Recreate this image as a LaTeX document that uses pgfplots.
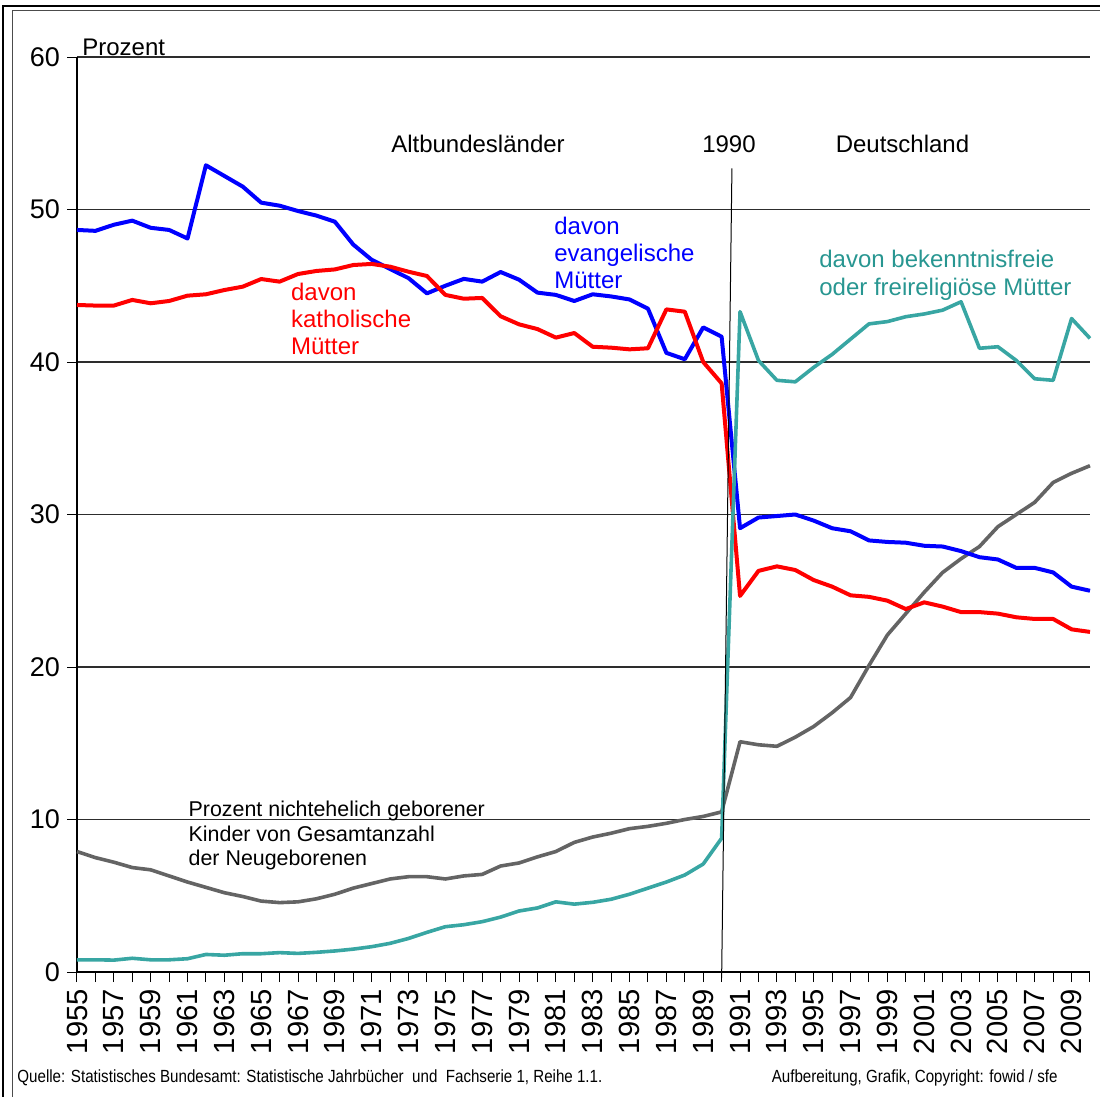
\documentclass[border=0pt]{standalone}
\usepackage{fontspec}
\setmainfont{Liberation Sans}
\newfontfamily\narrow[FakeStretch=0.86]{Liberation Sans}
\usepackage{pgfplots}
\usepackage{pgfplotstable}
\pgfplotsset{compat=1.18}
\definecolor{tealc}{RGB}{56,166,163}
\definecolor{tealtext}{RGB}{40,150,145}
\definecolor{grayc}{RGB}{100,100,100}
\definecolor{gridc}{RGB}{45,45,45}

\pgfplotstableread{
year ev kath frei nicht
1955 48.66 43.74 0.80 7.90
1956 48.60 43.70 0.80 7.50
1957 49.00 43.70 0.78 7.20
1958 49.27 44.07 0.90 6.85
1959 48.80 43.85 0.80 6.70
1960 48.66 44.00 0.80 6.30
1961 48.10 44.35 0.87 5.90
1962 52.90 44.44 1.15 5.55
1963 52.20 44.72 1.10 5.20
1964 51.50 44.94 1.20 4.95
1965 50.45 45.44 1.20 4.65
1966 50.25 45.27 1.27 4.55
1967 49.90 45.77 1.22 4.60
1968 49.60 45.97 1.29 4.80
1969 49.20 46.07 1.38 5.10
1970 47.70 46.36 1.50 5.50
1971 46.70 46.43 1.66 5.80
1972 46.10 46.25 1.88 6.10
1973 45.50 45.92 2.20 6.25
1974 44.50 45.64 2.60 6.25
1975 45.00 44.40 2.97 6.10
1976 45.45 44.15 3.10 6.30
1977 45.27 44.20 3.30 6.40
1978 45.90 43.00 3.60 6.95
1979 45.40 42.47 4.00 7.15
1980 44.55 42.16 4.20 7.55
1981 44.40 41.60 4.60 7.90
1982 44.00 41.90 4.45 8.50
1983 44.44 41.00 4.57 8.85
1984 44.30 40.94 4.77 9.10
1985 44.10 40.83 5.10 9.40
1986 43.50 40.90 5.50 9.55
1987 40.60 43.45 5.90 9.75
1988 40.18 43.30 6.36 10.00
1989 42.27 40.00 7.08 10.20
1990 41.66 38.60 8.77 10.50
1991 29.10 24.66 43.30 15.10
1992 29.80 26.30 40.10 14.90
1993 29.90 26.60 38.80 14.80
1994 30.00 26.36 38.70 15.40
1995 29.60 25.70 39.65 16.10
1996 29.10 25.27 40.50 17.00
1997 28.90 24.70 41.50 18.00
1998 28.30 24.60 42.50 20.10
1999 28.20 24.35 42.65 22.10
2000 28.15 23.80 42.97 23.50
2001 27.95 24.24 43.15 24.90
2002 27.90 23.96 43.40 26.20
2003 27.60 23.60 43.95 27.10
2004 27.20 23.60 40.90 27.90
2005 27.05 23.50 41.00 29.20
2006 26.50 23.26 40.10 30.00
2007 26.50 23.15 38.90 30.80
2008 26.20 23.15 38.80 32.10
2009 25.27 22.47 42.85 32.70
2010 25.00 22.30 41.55 33.20
}\datatable

\begin{document}
\begin{tikzpicture}[x=0.5pt,y=-0.5pt]
\useasboundingbox (0,0) rectangle (1100,1097);
\begin{scope}
\clip (0,0) rectangle (1100,1097);
\draw[line width=1pt, black] (3,6) rectangle (1130,1130);
\draw[line width=0.5pt, black!70] (12.5,10.5) rectangle (1120,1120);
\end{scope}

\begin{axis}[
  at={(38.5pt,-486pt)}, anchor=south west,
  scale only axis, width=506.5pt, height=457.5pt,
  xmin=1955, xmax=2010, ymin=0, ymax=60,
  axis x line*=bottom, axis y line*=left,
  axis line style={line width=0.6pt, black},
  ytick={0,10,...,60},
  ymajorgrids, grid style={line width=0.65pt, gridc},
  xtick={1955,1957,...,2009},
  minor xtick={1956,1958,...,2010},
  tick align=outside,
  major tick length=5pt, minor tick length=5pt,
  every tick/.style={black, line width=0.5pt},
  minor tick style={black, line width=0.5pt},
  xticklabel style={rotate=90, anchor=east, font=\fontsize{14.6}{15}\selectfont},
  yticklabel style={font=\fontsize{13.5}{14}\selectfont},
  /pgf/number format/assume math mode=true,
  /pgf/number format/1000 sep={},
  clip=false,
]
\addplot[grayc, line width=1.8pt, line join=round] table[x=year, y=nicht] {\datatable};
\addplot[blue, line width=2pt, line join=round] table[x=year, y=ev] {\datatable};
\addplot[red, line width=2pt, line join=round] table[x=year, y=kath] {\datatable};
\addplot[tealc, line width=1.8pt, line join=round] table[x=year, y=frei] {\datatable};
\draw[black, line width=0.5pt] (axis cs:1990,-0.4) -- (axis cs:1990.56,52.7);
\end{axis}

\def\lab{\fontsize{12}{13}\selectfont}
\node[anchor=base west, inner sep=0, font=\lab] at (82,56) {Prozent};
\node[anchor=base, inner sep=0, font=\lab] at (478,153) {Altbundesländer};
\node[anchor=base, inner sep=0, font=\lab] at (729,153) {1990};
\node[anchor=base, inner sep=0, font=\lab] at (902.5,153) {Deutschland};

\node[anchor=base west, inner sep=0, font=\lab, text=blue] at (554,235) {davon};
\node[anchor=base west, inner sep=0, font=\lab, text=blue] at (554,262) {evangelische};
\node[anchor=base west, inner sep=0, font=\lab, text=blue] at (554,289) {Mütter};

\node[anchor=base west, inner sep=0, font=\lab, text=red] at (290.7,300) {davon};
\node[anchor=base west, inner sep=0, font=\lab, text=red] at (290.7,328) {katholische};
\node[anchor=base west, inner sep=0, font=\lab, text=red] at (290.7,355) {Mütter};

\node[anchor=base west, inner sep=0, font=\lab, text=tealtext] at (819,268) {davon bekenntnisfreie};
\node[anchor=base west, inner sep=0, font=\lab, text=tealtext] at (819,296) {oder freireligiöse Mütter};

\def\labs{\fontsize{10.7}{12}\selectfont}
\node[anchor=base west, inner sep=0, font=\labs] at (188.3,816) {Prozent nichtehelich geborener};
\node[anchor=base west, inner sep=0, font=\labs] at (188.3,841) {Kinder von Gesamtanzahl};
\node[anchor=base west, inner sep=0, font=\labs] at (188.3,865) {der Neugeborenen};

\node[anchor=base west, inner sep=0, font=\narrow\fontsize{8.8}{9}\selectfont] at (17,1082) {Quelle: Statistisches Bundesamt: Statistische Jahrbücher\ \ und\ \ Fachserie 1, Reihe 1.1.};
\node[anchor=base east, inner sep=0, font=\narrow\fontsize{8.8}{9}\selectfont] at (1058,1082) {Aufbereitung, Grafik, Copyright: fowid / sfe};
\end{tikzpicture}
\end{document}
